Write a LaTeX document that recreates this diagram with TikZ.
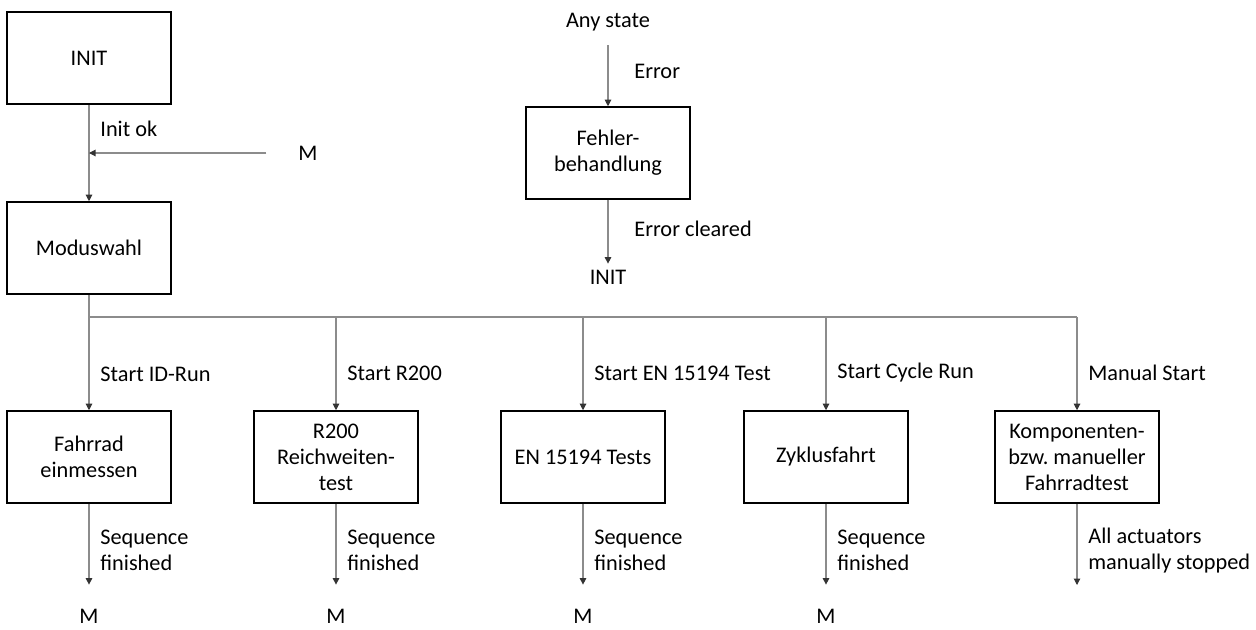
\documentclass[tikz,border=0pt]{standalone}
\usepackage{fontspec}
\setmainfont{Carlito}
\usepackage{tikz}
\usetikzlibrary{arrows.meta, calc, positioning}
\definecolor{linie}{RGB}{140,140,140}
\frenchspacing
\tikzset{
	every node/.style={
		font=\fontsize{12.7}{14.8}\selectfont
	},
	zustand/.style={
		shape=rectangle,
		minimum width=3.24cm,
		minimum height=1.84cm,
		text width=3.05cm,
		align=flush center,
		draw=black,
		line width=0.9pt
	},
	pfeil/.style={
		draw=linie,
		line width=0.6pt,
		-{Triangle[length=1.3mm,width=1.3mm,fill=black!80,color=black!80]}
	},
	bedingung/.style={
		right,
		align=left,
		xshift=1mm
	},
	ziel/.style={
		inner sep=0.5pt
	}
}

\begin{document}
\begin{tikzpicture}[x=0.02cm,y=-0.02cm]
	\useasboundingbox (0,0) rectangle (1256,629);

	% Zustaende
	\node[zustand] (init)   at (89,58)   {INIT};
	\node[zustand] (modus)  at (89,248)  {Moduswahl};
	\node[zustand] (fehler) at (608,153) {Fehler-\\behandlung};
	\node[zustand] (fahrrad) at (89,457)   {Fahrrad\\einmessen};
	\node[zustand] (reich)   at (336,457)  {R200\\Reichweiten-\\test};
	\node[zustand] (en)      at (583,457)  {EN 15194 Tests};
	\node[zustand] (zyklus)  at (826,457)  {Zyklusfahrt};
	\node[zustand] (manuell) at (1077,457) {Komponenten-\\bzw. manueller\\Fahrradtest};

	% Texte ohne Rahmen
	\node (anystate) at (608,22)  {Any state};
	\node (initref)  at (608,277) {INIT};
	\node (mtop)     at (308,153) {M};
	\node[ziel] (m1) at (89,616)  {M};
	\node[ziel] (m2) at (336,616) {M};
	\node[ziel] (m3) at (583,616) {M};
	\node[ziel] (m4) at (826,616) {M};

	\coordinate (join) at (89,153);
	\coordinate (bus)  at (89,317);
	\coordinate (ende) at (1077,585);

	% Uebergaenge
	\path (init)  edge[pfeil] node[bedingung, pos=0.25] {Init ok} (modus);
	\draw[pfeil, shorten <=5.2mm] (mtop.west) -- (join);
	\path (anystate) edge[pfeil, shorten <=1.6mm] node[bedingung, pos=0.5, xshift=3mm] {Error} (fehler);
	\path (fehler) edge[pfeil] node[bedingung, pos=0.45, xshift=3mm] {Error cleared} (initref);

	\draw[draw=linie, line width=0.6pt] (modus.south) -- (bus) -- (bus -| manuell);
	\path (modus.south) edge[pfeil] node[bedingung, pos=0.69] {Start ID-Run} (fahrrad);
	\path (bus -| reich)   edge[pfeil] node[bedingung, pos=0.6] {Start R200} (reich);
	\path (bus -| en)      edge[pfeil] node[bedingung, pos=0.6] {Start EN 15194 Test} (en);
	\path (bus -| zyklus)  edge[pfeil] node[bedingung, pos=0.6] {Start Cycle Run} (zyklus);
	\path (bus -| manuell) edge[pfeil] node[bedingung, pos=0.6] {Manual Start} (manuell);

	\path (fahrrad) edge[pfeil, shorten >=4.6mm] node[bedingung, pos=0.45] {Sequence\\finished} (m1);
	\path (reich)   edge[pfeil, shorten >=4.6mm] node[bedingung, pos=0.45] {Sequence\\finished} (m2);
	\path (en)      edge[pfeil, shorten >=4.6mm] node[bedingung, pos=0.45] {Sequence\\finished} (m3);
	\path (zyklus)  edge[pfeil, shorten >=4.6mm] node[bedingung, pos=0.45] {Sequence\\finished} (m4);
	\path (manuell) edge[pfeil] node[bedingung, pos=0.57] {All actuators\\manually stopped} (ende);

\end{tikzpicture}
\end{document}
